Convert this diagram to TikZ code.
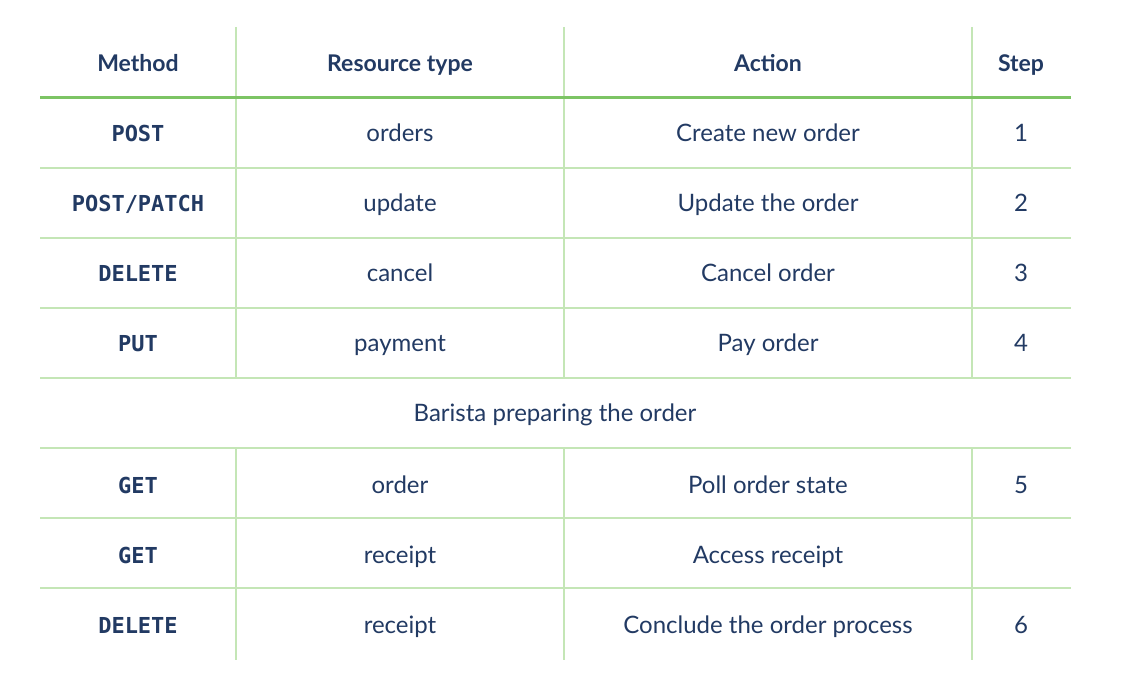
\documentclass[tikz,border=0pt]{standalone}
\usepackage{fontspec}
\setmainfont{Lato}
\setmonofont{DejaVu Sans Mono}
\definecolor{ink}{HTML}{223A63}
\definecolor{rule}{HTML}{C4E6B6}
\definecolor{headrule}{HTML}{7CC464}
\tikzset{
  cell/.style={text=ink, font=\fontsize{24}{28}\selectfont, anchor=center,
    text height=1.5ex, text depth=.3ex, inner sep=0pt, yshift=-5pt},
  head/.style={cell, font=\fontsize{23}{28}\selectfont\bfseries},
  meth/.style={cell, font=\fontsize{22}{26}\selectfont\ttfamily\bfseries},
  grid/.style={rule, line width=1.5pt},
}
\begin{document}
\begin{tikzpicture}[x=1pt,y=-1pt]
\useasboundingbox (0,0) rectangle (1146,690);

% header
\node[head] (hmeth) at (138,63) {Method};
\node[head] (hres) at (400,63) {Resource type};
\node[head] (hact) at (768,63) {Action};
\node[head] (hstep) at (1021,63) {Step};

% rows
\foreach \y/\m/\r/\a/\s/\n in {
  133/POST/orders/Create new order/1/1,
  203/{POST/PATCH}/update/Update the order/2/2,
  273/DELETE/cancel/Cancel order/3/3,
  343/PUT/payment/Pay order/4/4,
  485/GET/order/Poll order state/5/5,
  555/GET/receipt/Access receipt//6,
  625/DELETE/receipt/Conclude the order process/6/7}{
  \node[meth] (m\n) at (138,\y) {\m};
  \node[cell] (r\n) at (400,\y) {\r};
  \node[cell] (a\n) at (768,\y) {\a};
  \node[cell] (s\n) at (1021,\y) {\s};
}
\node[cell] (barista) at (555,413) {Barista preparing the order};

% lines
\foreach \y in {168,238,308,378,448,518,588}
  \draw[grid] (40,\y) -- (1071,\y);
\foreach \x in {236,564,972}{
  \draw[grid] (\x,27) -- (\x,378);
  \draw[grid] (\x,448) -- (\x,660);
}
\draw[headrule, line width=3pt] (40,98) -- (1071,98);
\end{tikzpicture}
\end{document}
